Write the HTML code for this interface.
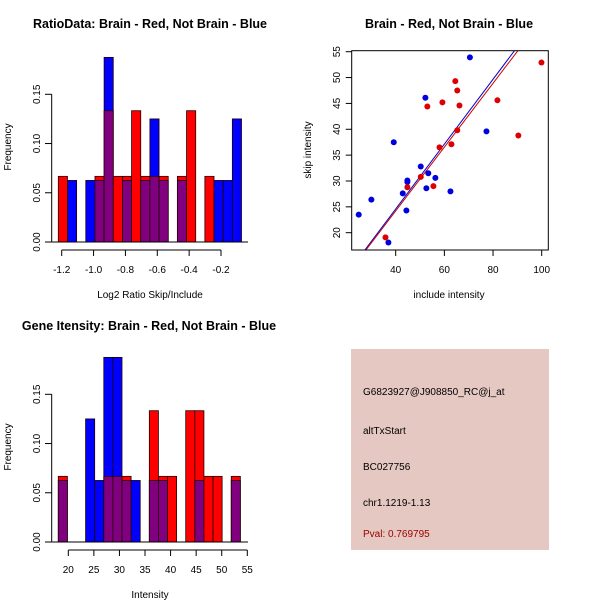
<!DOCTYPE html>
<html><head><meta charset="utf-8"><style>
body{margin:0;background:#fff}
svg{display:block;font-family:"Liberation Sans",sans-serif}
</style></head><body>
<svg id="c" width="600" height="600" viewBox="0 0 600 600">
<rect width="600" height="600" fill="#fff"/>
<text x="150" y="28" text-anchor="middle" font-size="12.5" font-weight="bold">RatioData: Brain - Red, Not Brain - Blue</text>
<text x="449" y="28" text-anchor="middle" font-size="12.5" font-weight="bold">Brain - Red, Not Brain - Blue</text>
<text x="149" y="330" text-anchor="middle" font-size="12.5" font-weight="bold">Gene Itensity: Brain - Red, Not Brain - Blue</text>
<text x="150" y="298" text-anchor="middle" font-size="10">Log2 Ratio Skip/Include</text>
<text x="150" y="598" text-anchor="middle" font-size="10">Intensity</text>
<text transform="translate(11,147) rotate(-90)" text-anchor="middle" font-size="10">Frequency</text>
<text transform="translate(11,447) rotate(-90)" text-anchor="middle" font-size="10">Frequency</text>
<text x="449" y="298" text-anchor="middle" font-size="10">include intensity</text>
<text transform="translate(311,150) rotate(-90)" text-anchor="middle" font-size="10">skip intensity</text>
<g>
<rect x="351" y="349" width="198" height="201" fill="#e4c8c1"/>
<text x="363" y="395" font-size="10">G6823927@J908850_RC@j_at</text>
<text x="363" y="434" font-size="10">altTxStart</text>
<text x="363" y="470" font-size="10">BC027756</text>
<text x="363" y="506" font-size="10">chr1.1219-1.13</text>
<text x="363" y="537" font-size="10" fill="#9b0000">Pval: 0.769795</text>
</g>
<g id="g1"></g><g id="g2"></g><g id="g3"></g>
</svg>
<script>
// Ratio histogram data (counts per bin)
const ratioBinStart = -1.2213;
const ratioBinWidth = 0.0575;
const ratioRedCounts  = [1,0,0,0,1,2,1,1,2,1,1,1,0,1,2,0,1,0,0,0];
const ratioBlueCounts = [0,1,0,1,1,3,0,1,0,1,2,1,0,1,0,0,0,1,1,2];
const ratioXTicks = [-1.2,-1.0,-0.8,-0.6,-0.4,-0.2];
const ratioXTickLabels = ["-1.2","-1.0","-0.8","-0.6","-0.4","-0.2"];
// Intensity histogram data
const intBinStart = 18.04;
const intBinWidth = 1.78;
const intRedCounts  = [1,0,0,0,0,1,1,1,0,0,2,1,1,0,2,2,1,1,0,1];
const intBlueCounts = [1,0,0,2,1,3,3,1,1,0,1,1,0,0,0,1,0,0,0,1];
const intXTicks = [20,25,30,35,40,45,50,55];
const freqTicks = [0,0.05,0.10,0.15];
const freqTickLabels = ["0.00","0.05","0.10","0.15"];
// Scatter data
const blueInclude = [24.8,30.0,37.0,39.2,42.9,44.4,44.8,44.8,50.3,52.2,52.6,53.4,56.3,62.5,70.5,77.3];
const blueSkip    = [23.5,26.4,18.1,37.5,27.6,24.3,30.1,29.8,32.8,46.1,28.6,31.5,30.6,28.0,53.9,39.6];
const redInclude  = [35.8,44.8,50.3,53.0,55.5,58.0,59.2,62.9,64.5,65.3,65.3,66.2,81.8,90.4,99.9];
const redSkip     = [19.1,28.8,30.8,44.4,29.0,36.5,45.2,37.1,49.3,47.5,39.8,44.6,45.6,38.8,52.9];
const blueFit = [-0.49, 0.627];
const redFit  = [-0.47, 0.617];
const scatterXTicks = [40,60,80,100];
const scatterYTicks = [20,25,30,35,40,45,50,55];

const NS="http://www.w3.org/2000/svg";
function mk(p,t,a){const e=document.createElementNS(NS,t);for(const k in a)e.setAttribute(k,a[k]);p.appendChild(e);return e;}

function hist(g,y0,binStart,binW,red,blue,xTicks,xLabels,xTickPx){
  const nR=red.reduce((a,b)=>a+b,0), nB=blue.reduce((a,b)=>a+b,0);
  const X=v=>xTickPx[0]+(v-xTicks[0])*(xTickPx[1]-xTickPx[0])/(xTicks[xTicks.length-1]-xTicks[0]);
  const Y=f=>y0+242-f*(242-94.3)/0.15;
  for(let i=0;i<red.length;i++){
    const r=red[i]/nR,b=blue[i]/nB;const x1=X(binStart+i*binW),x2=X(binStart+(i+1)*binW);
    if(r===0&&b===0)continue;
    const hi=Math.max(r,b),lo=Math.min(r,b);
    let e=mk(g,'rect',{x:x1,y:Y(hi),width:x2-x1,height:Y(0)-Y(hi),fill:r>=b?'#ff0000':'#0000ff',stroke:'#200',"stroke-width":0.8});
    
    
    if(lo>0){e=mk(g,'rect',{x:x1,y:Y(lo),width:x2-x1,height:Y(0)-Y(lo),fill:'#800080',stroke:'#200',"stroke-width":0.8});
    
    }
  }
  mk(g,'line',{x1:51.7,x2:248,y1:Y(0),y2:Y(0),stroke:'#000'});
  mk(g,'line',{x1:51.7,x2:51.7,y1:Y(0),y2:Y(0.15),stroke:'#000'});
  freqTicks.forEach((f,i)=>{mk(g,'line',{x1:51.7,x2:45,y1:Y(f),y2:Y(f),stroke:'#000'});
    const t=mk(g,'text',{transform:`translate(40,${Y(f)}) rotate(-90)`,"text-anchor":"middle","font-size":10});t.textContent=freqTickLabels[i];
    
    });
  const ay=y0+250;
  mk(g,'line',{x1:X(xTicks[0]),x2:X(xTicks[xTicks.length-1]),y1:ay,y2:ay,stroke:'#000'});
  xTicks.forEach((v,i)=>{mk(g,'line',{x1:X(v),x2:X(v),y1:ay,y2:ay+6,stroke:'#000'});
    const t=mk(g,'text',{x:X(v),y:ay+23,"text-anchor":"middle","font-size":10});t.textContent=xLabels[i];
    
    });
}
hist(document.getElementById('g1'),0,ratioBinStart,ratioBinWidth,ratioRedCounts,ratioBlueCounts,ratioXTicks,ratioXTickLabels,[61.7,221]);
hist(document.getElementById('g3'),300,intBinStart,intBinWidth,intRedCounts,intBlueCounts,intXTicks,intXTicks.map(String),[68.3,247.3]);

// scatter
(function(){
  const g=document.getElementById('g2');
  const L=351.7,R=548.3,T=50.7,B=250;
  const X=v=>395.7+(v-40)*(541.7-395.7)/60;
  const Y=v=>232.7-(v-20)*(232.7-51.7)/35;
  const cp=mk(g,'clipPath',{id:'clp'});mk(cp,'rect',{x:L,y:T,width:R-L,height:B-T});
  [[blueFit,'#0000cc'],[redFit,'#cc0000']].forEach(([f,c],k)=>{
    const xa=15,xb=110;
    const l=mk(g,'line',{x1:X(xa),y1:Y(f[0]+f[1]*xa),x2:X(xb),y2:Y(f[0]+f[1]*xb),stroke:c,"stroke-width":1,"clip-path":"url(#clp)"});
    
    
  });
  blueInclude.forEach((v,i)=>{const c=mk(g,'circle',{cx:X(v),cy:Y(blueSkip[i]),r:3,fill:'#0000dd'});
    
    });
  redInclude.forEach((v,i)=>{const c=mk(g,'circle',{cx:X(v),cy:Y(redSkip[i]),r:3,fill:'#dd0000'});
    
    });
  const bx=mk(g,'rect',{x:L,y:T,width:R-L,height:B-T,fill:'none',stroke:'#000'});
  
  
  scatterXTicks.forEach(v=>{mk(g,'line',{x1:X(v),x2:X(v),y1:B,y2:B+6,stroke:'#000'});
    const t=mk(g,'text',{x:X(v),y:B+23,"text-anchor":"middle","font-size":10});t.textContent=v;
    
    });
  scatterYTicks.forEach(v=>{mk(g,'line',{x1:L,x2:L-6,y1:Y(v),y2:Y(v),stroke:'#000'});
    const t=mk(g,'text',{transform:`translate(340,${Y(v)}) rotate(-90)`,"text-anchor":"middle","font-size":10});t.textContent=v;
    
    });
})();
</script>
</body></html>
